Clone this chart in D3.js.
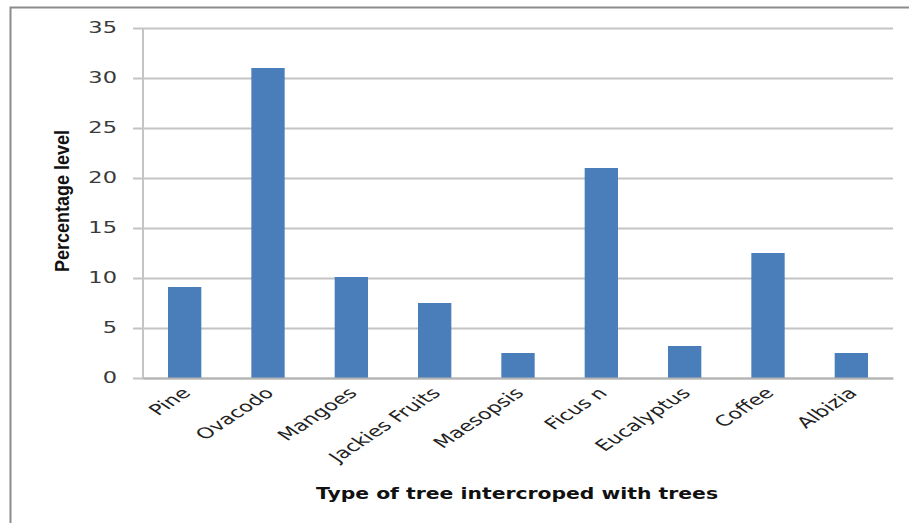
<!DOCTYPE html>
<html>
<head>
<meta charset="utf-8">
<script src="https://cdn.jsdelivr.net/npm/d3@7"></script>
<style>
  html, body { margin: 0; padding: 0; background: #fff; }
  svg { display: block; }
</style>
</head>
<body>
<svg id="chart" width="909" height="523"></svg>
<script>
// Share of each tree type intercropped with trees (%)
const categories = ["Pine", "Ovacodo", "Mangoes", "Jackies Fruits", "Maesopsis", "Ficus n", "Eucalyptus", "Coffee", "Albizia"];
const values = [9.1, 31, 10.1, 7.5, 2.5, 21, 3.2, 12.5, 2.5];
const yTicks = [0, 5, 10, 15, 20, 25, 30, 35];
const yTitle = "Percentage level";
const xTitle = "Type of tree intercroped with trees";

const svg = d3.select("#chart");
const W = 909, H = 523;
const plot = { left: 143, right: 893, top: 28, bottom: 378 };
const stretch = 1.5; // labels are drawn wide

// outer chart frame (left and top edges)
svg.append("path")
  .attr("d", `M10.5,${H} L10.5,7.5 L${W},7.5`)
  .attr("fill", "none")
  .attr("stroke", "#8c8c8c")
  .attr("stroke-width", 2);

const x = d3.scaleBand()
  .domain(categories)
  .range([plot.left, plot.right])
  .paddingInner(0.6)
  .paddingOuter(0.3);

const y = d3.scaleLinear()
  .domain([0, 35])
  .range([plot.bottom, plot.top]);

// horizontal gridlines with ticks extending left of the axis
const yAxis = d3.axisLeft(y)
  .tickValues(yTicks)
  .tickSize(-(plot.right - plot.left))
  .tickSizeOuter(0)
  .tickPadding(26)
  .tickFormat(d3.format("d"));

const gy = svg.append("g")
  .attr("transform", `translate(${plot.left},0)`)
  .call(yAxis);
gy.select(".domain").remove();
gy.selectAll(".tick line")
  .attr("x1", -10)
  .attr("stroke", "#c4c4c4")
  .attr("stroke-width", 2);
gy.selectAll(".tick text")
  .attr("fill", "#3a3a3a")
  .style("font-family", "'DejaVu Sans', Verdana, sans-serif")
  .style("font-size", "15px")
  .each(function () {
    const len = this.getComputedTextLength();
    d3.select(this)
      .attr("textLength", len * stretch)
      .attr("lengthAdjust", "spacingAndGlyphs");
  });

// vertical axis line
svg.append("line")
  .attr("x1", plot.left).attr("x2", plot.left)
  .attr("y1", plot.top).attr("y2", plot.bottom)
  .attr("stroke", "#c4c4c4")
  .attr("stroke-width", 2);

// bars
svg.append("g")
  .selectAll("rect")
  .data(values)
  .join("rect")
  .attr("x", (d, i) => x(categories[i]))
  .attr("y", d => y(d))
  .attr("width", x.bandwidth())
  .attr("height", d => y(0) - y(d))
  .attr("fill", "#4a7ebb");

// category axis
const gx = svg.append("g")
  .attr("transform", `translate(0,${plot.bottom})`)
  .call(d3.axisBottom(x).tickSize(0).tickSizeOuter(0));
gx.select(".domain")
  .attr("stroke", "#b4b4b4")
  .attr("stroke-width", 2);
gx.selectAll(".tick text")
  .attr("fill", "#222")
  .style("font-family", "'DejaVu Sans', Verdana, sans-serif")
  .style("font-size", "15px")
  .attr("text-anchor", "end")
  .attr("dy", "0")
  .attr("y", 0)
  .attr("transform", `translate(7,16) scale(${stretch},1) rotate(-45)`);

// axis titles
svg.append("text")
  .attr("transform", "translate(69,201) scale(1.3,1) rotate(-90)")
  .attr("text-anchor", "middle")
  .attr("textLength", 142)
  .attr("lengthAdjust", "spacingAndGlyphs")
  .style("font-family", "'Liberation Sans Narrow', 'Liberation Sans', sans-serif")
  .style("font-size", "15px")
  .style("font-weight", "bold")
  .attr("fill", "#111")
  .text(yTitle);

svg.append("text")
  .attr("x", 517)
  .attr("y", 499)
  .attr("text-anchor", "middle")
  .attr("textLength", 402)
  .attr("lengthAdjust", "spacingAndGlyphs")
  .style("font-family", "'DejaVu Sans', Verdana, sans-serif")
  .style("font-size", "16px")
  .style("font-weight", "bold")
  .attr("fill", "#111")
  .text(xTitle);
</script>
</body>
</html>
